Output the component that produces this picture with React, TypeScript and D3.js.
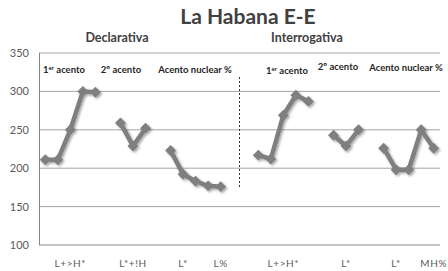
import React, { useEffect, useRef } from 'react'
import * as d3 from 'd3'

// category labels (only some slots are labelled, the rest are spacer slots)
const categories = ['', '', 'L+>H*', '', '', '', '', 'L*+!H', '', '', '', 'L*', '', '', 'L%', '', '',
    '', '', 'L+>H*', '', '', '', '', 'L*', '', '', '', 'L*', '', '', 'MH%']

// F0 values, null = gap in line
const values: (number | null)[] = [211, 211, 250, 300, 299, null, 259, 229, 252, null, 223, 192, 183, 177, 176, null, null,
    217, 212, 269, 295, 287, null, 243, 229, 250, null, 226, 198, 198, 250, 226]

const yTicks = [100, 150, 200, 250, 300, 350]

const title = 'La Habana E-E'
const groups = [
    { label: 'Declarativa', x: 117 },
    { label: 'Interrogativa', x: 307 }
]
// sub headers: [text, superscript, rest, centre x, baseline]
const subHeaders: [string, string, string, number, number][] = [
    ['1', 'er', ' acento', 64, 73],
    ['2º acento', '', '', 121, 73],
    ['Acento nuclear %', '', '', 195, 73],
    ['1', 'er', ' acento', 287, 74],
    ['2º acento', '', '', 338, 70],
    ['Acento nuclear %', '', '', 406, 71]
]

const W = 448, H = 271
const margin = { left: 39, right: 8, top: 53, bottom: 26 }

export default function App() {
    const ref = useRef<SVGSVGElement>(null)

    useEffect(() => {
        const svg = d3.select(ref.current)
        svg.selectAll('*').remove()
        const font = 'Lato, "Open Sans", sans-serif'

        const x = d3.scaleBand<number>()
            .domain(d3.range(categories.length))
            .range([margin.left, W - margin.right])
        const y = d3.scaleLinear().domain([100, 350]).range([H - margin.bottom, margin.top])
        const cx = (i: number) => (x(i) as number) + x.bandwidth() / 2

        const defs = svg.append('defs')
        const f = defs.append('filter').attr('id', 'sh').attr('x', '-50%').attr('y', '-50%')
            .attr('width', '200%').attr('height', '200%')
        f.append('feDropShadow').attr('dx', 1.5).attr('dy', 1.5).attr('stdDeviation', 1.3)
            .attr('flood-color', '#000').attr('flood-opacity', 0.35)

        svg.append('rect').attr('width', W).attr('height', H).attr('fill', '#fff')

        // gridlines
        svg.append('g').selectAll('line').data(yTicks.filter(d => d > 100)).enter().append('line')
            .attr('x1', margin.left).attr('x2', W - margin.right)
            .attr('y1', d => y(d)).attr('y2', d => y(d))
            .attr('stroke', '#a6a6a6').attr('stroke-width', 1)

        // axes lines
        svg.append('line').attr('x1', margin.left + 0.5).attr('x2', margin.left + 0.5)
            .attr('y1', y(350)).attr('y2', y(100)).attr('stroke', '#868686')
        svg.append('line').attr('x1', margin.left).attr('x2', W - margin.right)
            .attr('y1', y(100)).attr('y2', y(100)).attr('stroke', '#868686')

        svg.append('g').selectAll('text').data(yTicks).enter().append('text')
            .attr('x', 29).attr('y', d => y(d) + 4)
            .attr('text-anchor', 'end').attr('font-family', font).attr('font-size', 11)
            .attr('fill', '#595959').text(d => d)

        svg.append('g').selectAll('text').data(categories.map((c, i) => ({ c, i })).filter(d => d.c))
            .enter().append('text')
            .attr('x', d => cx(d.i)).attr('y', 267)
            .attr('text-anchor', 'middle').attr('font-family', font).attr('font-size', 10)
            .attr('letter-spacing', 0.6)
            .attr('fill', '#595959').text(d => d.c)

        // dashed separator
        svg.append('line').attr('x1', x(16) as number).attr('x2', x(16) as number)
            .attr('y1', 77).attr('y2', 187)
            .attr('stroke', '#333').attr('stroke-width', 1).attr('stroke-dasharray', '2,2')

        // line + markers
        const line = d3.line<number | null>()
            .defined(d => d != null)
            .x((d, i) => cx(i))
            .y(d => y(d as number))
        const series = svg.append('g').attr('filter', 'url(#sh)')
        series.append('path').datum(values).attr('d', line)
            .attr('fill', 'none').attr('stroke', '#7f7f7f').attr('stroke-width', 4.5)
            .attr('stroke-linejoin', 'round')
        const diamond = d3.symbol().type(d3.symbolSquare).size(60)
        series.selectAll('path.m').data(values.map((v, i) => ({ v, i })).filter(d => d.v != null))
            .enter().append('path').attr('class', 'm')
            .attr('d', diamond)
            .attr('transform', d => `translate(${cx(d.i)},${y(d.v as number)}) rotate(45)`)
            .attr('fill', '#7f7f7f')

        // titles
        svg.append('text').attr('x', 248).attr('y', 24).attr('text-anchor', 'middle')
            .attr('font-family', font).attr('font-weight', 'bold').attr('font-size', 21)
            .attr('fill', '#404040').text(title)
        svg.append('g').selectAll('text').data(groups).enter().append('text')
            .attr('x', d => d.x).attr('y', 42).attr('text-anchor', 'middle')
            .attr('font-family', font).attr('font-weight', 'bold').attr('font-size', 12.5)
            .attr('fill', '#404040').text(d => d.label)

        const sub = svg.append('g').selectAll('text').data(subHeaders).enter().append('text')
            .attr('x', d => d[3]).attr('y', d => d[4]).attr('text-anchor', 'middle')
            .attr('font-family', font).attr('font-weight', 'bold').attr('font-size', 9.5)
            .attr('fill', '#262626')
        sub.append('tspan').text(d => d[0])
        sub.append('tspan').attr('font-size', 6).attr('dy', -3).text(d => d[1])
        sub.append('tspan').attr('dy', d => d[1] ? 3 : 0).text(d => d[2])
    }, [])

    return (
        <svg ref={ref} width={W} height={H} style={{ position: 'absolute', left: 0, top: 0 }} />
    )
}
